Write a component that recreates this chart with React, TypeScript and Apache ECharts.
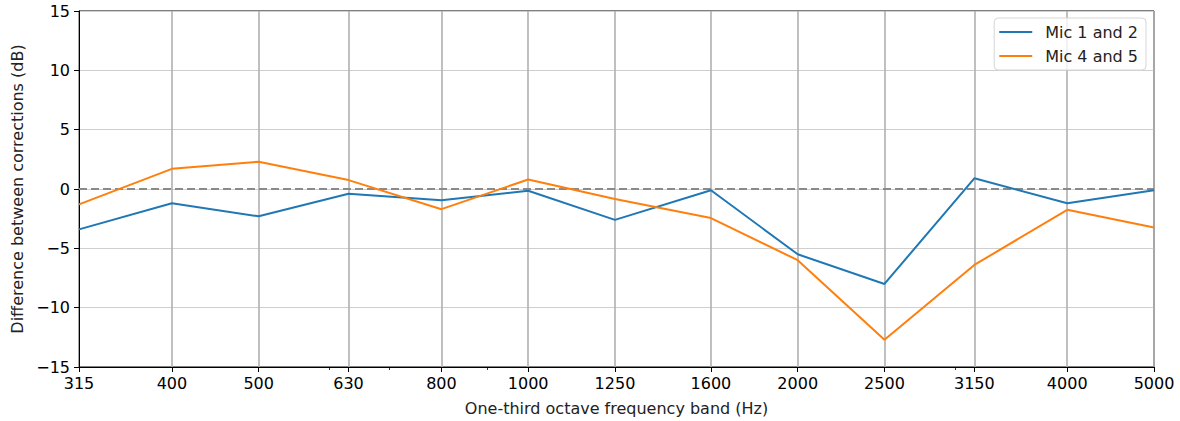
import React, { useEffect, useRef } from "react";
import * as echarts from "echarts";

const bands = [315, 400, 500, 630, 800, 1000, 1250, 1600, 2000, 2500, 3150, 4000, 5000];
const mic12 = [-3.4, -1.2, -2.3, -0.4, -0.95, -0.15, -2.6, -0.1, -5.5, -8.0, 0.9, -1.2, -0.1];
const mic45 = [-1.3, 1.7, 2.3, 0.75, -1.7, 0.8, -0.85, -2.45, -6.0, -12.7, -6.4, -1.75, -3.25];
const zeroLine = [0, 0];
const minorTicks = [600, 700, 900, 3000];
const yTicks = { min: -15, max: 15, interval: 5 };

const FONT = "'DejaVu Sans', sans-serif";

export default function App() {
  const ref = useRef<HTMLDivElement>(null);
  useEffect(() => {
    if (!ref.current) return;
    const chart = echarts.init(ref.current, null, { renderer: "svg" });
    const fmtY = (v: number) => (v < 0 ? "\u2212" + Math.abs(v) : String(v));
    chart.setOption({
      animation: false,
      textStyle: { fontFamily: FONT },
      grid: {
        left: 79,
        right: 26,
        top: 11,
        bottom: 54,
        show: true,
        borderColor: "#000",
        borderWidth: 1,
        backgroundColor: "transparent",
      },
      legend: {
        data: ["Mic 1 and 2", "Mic 4 and 5"],
        orient: "vertical",
        right: 34,
        top: 18,
        icon: "rect",
        itemWidth: 33,
        itemHeight: 2,
        itemGap: 8,
        padding: [6, 8, 6, 5],
        backgroundColor: "rgba(255,255,255,0.8)",
        borderColor: "#d6d6d6",
        borderWidth: 1,
        borderRadius: 4,
        textStyle: {
          fontFamily: FONT,
          fontSize: 16,
          lineHeight: 16,
          color: "#222",
          padding: [0, 0, 0, 8],
        },
      },
      xAxis: [
        {
          type: "log",
          logBase: 10,
          min: bands[0],
          max: bands[bands.length - 1],
          name: "One-third octave frequency band (Hz)",
          nameLocation: "middle",
          nameGap: 33,
          nameTextStyle: { fontFamily: FONT, fontSize: 16, color: "#222" },
          axisLine: { show: true, onZero: false, lineStyle: { color: "#000", width: 1 } },
          axisTick: { show: true, length: 5, customValues: bands, lineStyle: { color: "#000", width: 1 } },
          axisLabel: {
            customValues: bands,
            margin: 8,
            fontFamily: FONT,
            fontSize: 16,
            color: "#000",
            formatter: (v: number) => String(Math.round(v)),
          },
          splitLine: { show: true, lineStyle: { color: "#b0b0b0", width: 1.6 } },
          minorTick: { show: false },
        },
        {
          type: "log",
          logBase: 10,
          min: bands[0],
          max: bands[bands.length - 1],
          position: "bottom",
          axisLine: { show: false, onZero: false },
          axisTick: { show: true, length: 3, customValues: minorTicks, lineStyle: { color: "#000", width: 0.8 } },
          axisLabel: { show: false },
          splitLine: { show: false },
        },
      ],
      yAxis: {
        type: "value",
        min: yTicks.min,
        max: yTicks.max,
        interval: yTicks.interval,
        name: "Difference between corrections (dB)",
        nameLocation: "middle",
        nameGap: 54,
        nameTextStyle: { fontFamily: FONT, fontSize: 16, color: "#222" },
        axisLine: { show: true, onZero: false, lineStyle: { color: "#000", width: 1 } },
        axisTick: { show: true, length: 5, lineStyle: { color: "#000", width: 1 } },
        axisLabel: { margin: 9, fontFamily: FONT, fontSize: 16, color: "#000", formatter: fmtY },
        splitLine: { show: true, lineStyle: { color: "#cfcfcf", width: 1.1 } },
      },
      series: [
        {
          name: "zero",
          type: "line",
          data: [
            [bands[0], zeroLine[0]],
            [bands[bands.length - 1], zeroLine[1]],
          ],
          symbol: "none",
          showSymbol: false,
          silent: true,
          lineStyle: { color: "#8a8a8a", width: 2, type: [8, 4] },
          itemStyle: { color: "#8a8a8a" },
          z: 1,
        },
        {
          name: "Mic 1 and 2",
          type: "line",
          data: bands.map((f, i) => [f, mic12[i]]),
          symbol: "none",
          showSymbol: false,
          lineStyle: { color: "#1f77b4", width: 2 },
          itemStyle: { color: "#1f77b4" },
          z: 3,
        },
        {
          name: "Mic 4 and 5",
          type: "line",
          data: bands.map((f, i) => [f, mic45[i]]),
          symbol: "none",
          showSymbol: false,
          lineStyle: { color: "#ff7f0e", width: 2 },
          itemStyle: { color: "#ff7f0e" },
          z: 3,
        },
      ],
    });
    return () => chart.dispose();
  }, []);
  return (
    <div
      ref={ref}
      style={{ position: "absolute", left: 0, top: 0, width: 1180, height: 421, background: "#fff" }}
    />
  );
}
